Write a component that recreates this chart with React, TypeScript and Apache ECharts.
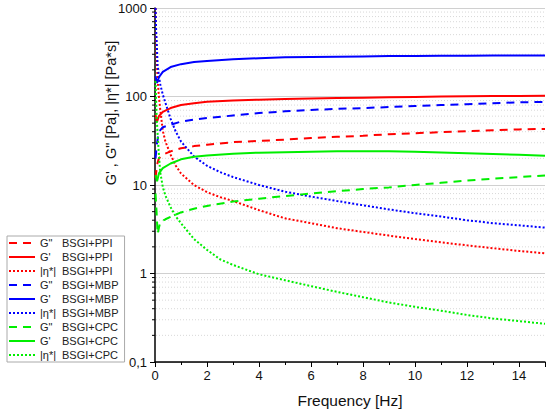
import React, { useEffect, useRef } from "react";
import * as echarts from "echarts";

// ---- data ----
const prefixes = ['G"', "G'", "|η*|"];
const samples = ["BSGI+PPI", "BSGI+MBP", "BSGI+CPC"];
const colors = ["#ff0000", "#0000ff", "#00ee00"];

const fStorage = [0.02, 0.08, 0.15, 0.3, 0.6, 1, 1.5, 2, 3, 4, 5, 6, 7, 8, 9, 10, 11, 12, 13, 14, 15];
const gStorPPI = [62, 52, 60, 67, 74, 80, 84, 87, 90, 92, 94, 95, 96, 97, 98, 99, 100, 100.5, 101, 101.5, 102];
const gStorMBP = [170, 142, 165, 190, 215, 232, 245, 252, 263, 271, 277, 280, 282, 284, 286, 287, 288, 289, 290, 290, 290];
const gStorCPC = [13, 11, 13.5, 15.5, 17.5, 19.5, 20.8, 21.6, 22.6, 23.2, 23.5, 23.8, 24, 24, 24, 23.7, 23.3, 22.9, 22.4, 21.9, 21.4];

const fLoss = [0.02, 0.08, 0.15, 0.3, 0.6, 1, 1.5, 2, 3, 4, 5, 6, 7, 8, 9, 10, 11, 12, 13, 14, 15];
const gLossPPI = [12, 17, 20, 22, 24, 26, 27.5, 28.5, 30.5, 31.5, 32.5, 34, 35, 36, 37.5, 38.5, 39.5, 40.5, 41.5, 42.5, 43];
const gLossMBP = [20, 30, 40, 45, 48, 52, 55, 57, 61, 65, 68, 70.5, 72.5, 74, 76, 78, 80, 82, 84, 86, 87];
const fLossCPC = [0.02, 0.06, 0.1, 0.2, 0.4, 0.7, 1, 1.5, 2, 3, 4, 5, 6, 7, 8, 9, 10, 11, 12, 13, 14, 15];
const gLossCPC = [8, 5, 2.8, 3.8, 4.1, 4.5, 4.9, 5.4, 5.8, 6.5, 7.0, 7.5, 8.0, 8.5, 9.0, 9.4, 10.0, 10.6, 11.2, 11.8, 12.3, 12.8];

const fEta = [0.02, 0.04, 0.07, 0.1, 0.15, 0.2, 0.3, 0.4, 0.6, 0.8, 1, 1.5, 2, 2.5, 3, 4, 5, 6, 7, 8, 9, 10, 11, 12, 13, 14, 15];
const etaPPI = [1000, 500, 250, 160, 100, 72, 41, 31, 22, 16.5, 13.5, 10, 8.3, 7.3, 6.6, 5.2, 4.2, 3.7, 3.25, 2.95, 2.68, 2.45, 2.25, 2.08, 1.93, 1.8, 1.69];
const etaMBP = [1000, 600, 380, 230, 170, 138, 105, 85, 56, 40, 31, 21, 16.5, 14, 12.3, 10, 8.4, 7.4, 6.6, 5.9, 5.3, 4.8, 4.4, 4.0, 3.7, 3.5, 3.3];
const etaCPC = [150, 95, 55, 38, 22, 14, 9.5, 7.6, 5.6, 4.4, 3.7, 2.45, 1.85, 1.45, 1.25, 0.98, 0.84, 0.72, 0.62, 0.54, 0.47, 0.42, 0.38, 0.34, 0.31, 0.29, 0.27];

const xTicks = [0, 2, 4, 6, 8, 10, 12, 14];
const decades = [0.1, 1, 10, 100];
const minorMultipliers = [2, 3, 4, 5, 6, 7, 8, 9];

const xTitle = "Frequency [Hz]";
const yTitle = "G' , G\" [Pa], |η*| [Pa*s]";

const FONT = "'Liberation Sans', Arial, Helvetica, sans-serif";

const zip = (f: number[], v: number[]) => f.map((x, i) => [x, v[i]]);

export default function App() {
  const ref = useRef<HTMLDivElement>(null);

  useEffect(() => {
    if (!ref.current) return;
    const chart = echarts.init(ref.current, undefined, { renderer: "svg" });

    const groups = [
      { s: 0, loss: zip(fLoss, gLossPPI), stor: zip(fStorage, gStorPPI), eta: zip(fEta, etaPPI) },
      { s: 1, loss: zip(fLoss, gLossMBP), stor: zip(fStorage, gStorMBP), eta: zip(fEta, etaMBP) },
      { s: 2, loss: zip(fLossCPC, gLossCPC), stor: zip(fStorage, gStorCPC), eta: zip(fEta, etaCPC) },
    ];

    const lineSeries: any[] = [];
    const legendNames: string[] = [];
    groups.forEach((g) => {
      const c = colors[g.s];
      const defs = [
        { p: prefixes[0], data: g.loss, type: [8, 6] },
        { p: prefixes[1], data: g.stor, type: "solid" },
        { p: prefixes[2], data: g.eta, type: [2, 2] },
      ];
      defs.forEach((d) => {
        const name = `${d.p} ${samples[g.s]}`;
        legendNames.push(name);
        lineSeries.push({
          name,
          type: "line",
          data: d.data,
          symbol: "none",
          showSymbol: false,
          z: 3,
          lineStyle: { color: c, width: 2, type: d.type },
          itemStyle: { color: c },
        });
      });
    });

    const minorVals: number[][] = [];
    decades.forEach((d) => minorMultipliers.forEach((m) => minorVals.push([0, +(d * m).toPrecision(3)])));

    const minorSeries = {
      name: "minor",
      type: "custom",
      coordinateSystem: "cartesian2d",
      clip: false,
      silent: true,
      z: 1,
      data: minorVals,
      renderItem: (params: any, api: any) => {
        const v = api.value(1);
        const p0 = api.coord([0, v]);
        const p1 = api.coord([15, v]);
        return {
          type: "group",
          children: [
            {
              type: "line",
              shape: { x1: p0[0] + 1, y1: p0[1], x2: p1[0], y2: p1[1] },
              style: { stroke: "#d8d8d8", lineWidth: 1, lineDash: [1, 2] },
            },
            {
              type: "line",
              shape: { x1: p0[0] - 3, y1: p0[1], x2: p0[0], y2: p0[1] },
              style: { stroke: "#000", lineWidth: 1 },
            },
          ],
        };
      },
    };

    chart.setOption({
      animation: false,
      backgroundColor: "#fff",
      textStyle: { fontFamily: FONT },
      grid: { left: 155, right: 5, top: 8, bottom: 55, containLabel: false },
      legend: {
        data: legendNames,
        orient: "vertical",
        left: 7,
        top: 236,
        itemWidth: 26,
        itemHeight: 12,
        itemGap: 3,
        padding: [1.5, 6, 1.5, 1],
        borderColor: "#aaa",
        borderWidth: 1,
        borderRadius: 0,
        backgroundColor: "#fff",
        selectedMode: false,
        itemStyle: { opacity: 0, borderWidth: 0 },
        formatter: (name: string) => {
          const i = name.indexOf(" ");
          return `{a|${name.slice(0, i)}}{b|${name.slice(i + 1)}}`;
        },
        textStyle: {
          fontFamily: FONT,
          fontSize: 11,
          color: "#222",
          rich: {
            a: { width: 22, fontSize: 11, fontFamily: FONT, color: "#222" },
            b: { fontSize: 11, fontFamily: FONT, color: "#222" },
          },
        },
      },
      xAxis: {
        type: "value",
        min: 0,
        max: 15,
        interval: 2,
        name: xTitle,
        nameLocation: "middle",
        nameGap: 30,
        nameTextStyle: { fontSize: 15.5, color: "#111", fontFamily: FONT },
        axisLine: { show: true, onZero: false, lineStyle: { color: "#000", width: 1.5 } },
        axisTick: { show: true, length: 5, inside: false, lineStyle: { color: "#000", width: 1 } },
        minorTick: { show: true, splitNumber: 2, length: 3, lineStyle: { color: "#000", width: 1 } },
        axisLabel: {
          fontSize: 13,
          color: "#111",
          margin: 7,
          fontFamily: FONT,
          showMaxLabel: false,
          formatter: (v: number) => (xTicks.includes(v) ? String(v) : ""),
        },
        splitLine: { show: false },
      },
      yAxis: {
        type: "log",
        logBase: 10,
        min: 0.1,
        max: 1000,
        axisLine: { show: true, onZero: false, lineStyle: { color: "#000", width: 1.5 } },
        axisTick: { show: true, length: 5, inside: false, lineStyle: { color: "#000", width: 1 } },
        axisLabel: {
          fontSize: 13,
          color: "#111",
          margin: 8,
          fontFamily: FONT,
          formatter: (v: number) => (v < 0.5 ? "0,1" : String(Math.round(v))),
        },
        splitLine: { show: true, lineStyle: { color: "#d0d0d0", width: 1 } },
      },
      graphic: [
        {
          type: "text",
          x: 111,
          y: 113,
          rotation: Math.PI / 2,
          style: {
            text: yTitle,
            fontSize: 14.5,
            fontFamily: FONT,
            fill: "#111",
            align: "center",
            verticalAlign: "middle",
          },
        },
      ],
      series: [minorSeries, ...lineSeries],
    });

    return () => chart.dispose();
  }, []);

  return (
    <div
      ref={ref}
      style={{ position: "fixed", left: 0, top: 0, width: 550, height: 417, background: "#fff" }}
    />
  );
}
